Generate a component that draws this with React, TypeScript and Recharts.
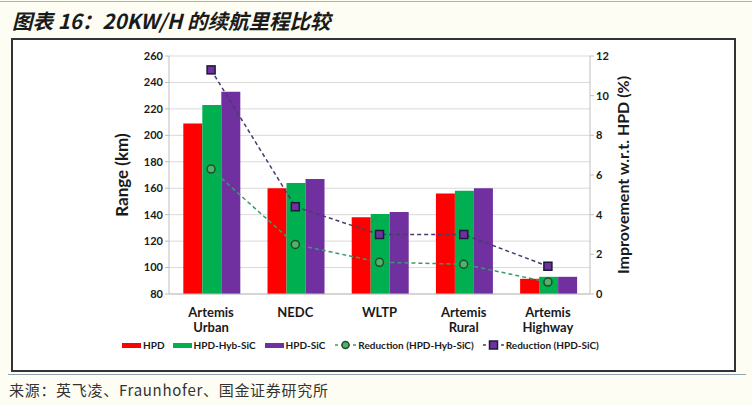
import React from 'react';
import {
  ComposedChart,
  Bar,
  Line,
  XAxis,
  YAxis,
  CartesianGrid,
} from 'recharts';

const categories = ['Artemis\nUrban', 'NEDC', 'WLTP', 'Artemis\nRural', 'Artemis\nHighway'];
const hpd = [209, 160, 138, 156, 91.5];
const hpdHybSic = [223, 164, 140.5, 158, 93];
const hpdSic = [233, 167, 142, 160, 93];
const reductionHybSic = [6.3, 2.5, 1.6, 1.5, 0.6];
const reductionSic = [11.3, 4.4, 3.0, 3.0, 1.4];

const rangeTicks = [80, 100, 120, 140, 160, 180, 200, 220, 240, 260];
const pctTicks = [0, 2, 4, 6, 8, 10, 12];

const RED = '#ff0000';
const GREEN = '#00b050';
const PURPLE = '#7030a0';
const FONT = 'Lato, "Open Sans", sans-serif';

const data = categories.map((name, i) => ({
  name,
  hpd: hpd[i],
  hyb: hpdHybSic[i],
  sic: hpdSic[i],
  redHyb: reductionHybSic[i],
  redSic: reductionSic[i],
}));

const CatTick = (props: any) => {
  const { x, y, payload } = props;
  const lines = String(payload.value).split('\n');
  return (
    <text x={x} y={y} textAnchor="middle" fontFamily={FONT} fontWeight={700} fontSize={13} fill="#1a1a1a">
      {lines.map((l, i) => (
        <tspan key={i} x={x} dy={15}>
          {l}
        </tspan>
      ))}
    </text>
  );
};

const CircleDot = (props: any) => {
  const { cx, cy } = props;
  if (cx == null || cy == null) return null;
  return <circle cx={cx} cy={cy} r={4} fill="#4fb36a" stroke="#1e4d2b" strokeWidth={1.5} />;
};

const SquareDot = (props: any) => {
  const { cx, cy } = props;
  if (cx == null || cy == null) return null;
  return <rect x={cx - 4} y={cy - 4} width={8} height={8} fill={PURPLE} stroke="#1a1a3a" strokeWidth={1.5} />;
};

const legendText: React.CSSProperties = {
  fontFamily: FONT,
  fontWeight: 700,
  fontSize: 10,
  color: '#1a1a1a',
  marginLeft: 2,
};

const Swatch = ({ color }: { color: string }) => (
  <span style={{ display: 'inline-block', width: 19, height: 5, background: color }} />
);

const LineIcon = ({ kind }: { kind: 'circle' | 'square' }) => (
  <svg width={21} height={10} style={{ display: 'block' }}>
    <line x1={0} y1={5} x2={21} y2={5} stroke={kind === 'circle' ? '#3c9a6a' : '#4b3b6b'} strokeWidth={1.5} strokeDasharray="3 3" />
    {kind === 'circle' ? (
      <circle cx={10.5} cy={5} r={3.5} fill="#4fb36a" stroke="#1e4d2b" strokeWidth={1.5} />
    ) : (
      <rect x={6.5} y={1} width={8} height={8} fill={PURPLE} stroke="#1a1a3a" strokeWidth={1.5} />
    )}
  </svg>
);

export default function App() {
  return (
    <div style={{ position: 'absolute', left: 0, top: 0, width: 752, height: 405, background: '#fdfdf3', overflow: 'hidden' }}>
      <svg width={752} height={405} style={{ position: 'absolute', left: 0, top: 0 }}>
        <line x1={0} y1={1.5} x2={752} y2={1.5} stroke="#b0b0b0" strokeWidth={1} />
        <rect x={12} y={39} width={723} height={332} fill="#ffffff" stroke="#333333" strokeWidth={2} />
        <line x1={8} y1={374.5} x2={746} y2={374.5} stroke="#8fa3b8" strokeWidth={1} />
      </svg>
      <div
        style={{
          position: 'absolute',
          left: 12,
          top: 5,
          fontFamily: '"Noto Sans CJK SC", "Liberation Sans", sans-serif',
          fontWeight: 700,
          fontStyle: 'italic',
          fontSize: 20.5,
          color: '#1a1a1a',
          whiteSpace: 'nowrap',
        }}
      >
        图表 16：20KW/H 的续航里程比较
      </div>
      <div style={{ position: 'absolute', left: 0, top: 0 }}>
        <ComposedChart
          width={752}
          height={405}
          data={data}
          margin={{ top: 56, right: 102, bottom: 71, left: 109 }}
          barCategoryGap="17%"
          barGap={0}
        >
          <CartesianGrid yAxisId="left" vertical={false} stroke="#d9d9d9" />
          <XAxis
            dataKey="name"
            interval={0}
            tick={<CatTick />}
            tickLine={false}
            axisLine={{ stroke: '#bfbfbf' }}
            height={40}
          />
          <YAxis
            yAxisId="left"
            domain={[80, 260]}
            ticks={rangeTicks}
            interval={0}
            width={60}
            tickSize={4}
            tickLine={{ stroke: '#bfbfbf' }}
            axisLine={{ stroke: '#bfbfbf' }}
            tick={{ fontFamily: FONT, fontWeight: 700, fontSize: 11, fill: '#1a1a1a' }}
            label={{
              value: 'Range (km)',
              angle: -90,
              position: 'insideLeft',
              dx: 8,
              style: { fontFamily: FONT, fontWeight: 700, fontSize: 17, fill: '#1a1a1a', textAnchor: 'middle' },
            }}
          />
          <YAxis
            yAxisId="right"
            orientation="right"
            domain={[0, 12]}
            ticks={pctTicks}
            interval={0}
            width={60}
            tickSize={4}
            tickLine={{ stroke: '#bfbfbf' }}
            axisLine={{ stroke: '#bfbfbf' }}
            tick={{ fontFamily: FONT, fontWeight: 700, fontSize: 11, fill: '#1a1a1a' }}
            label={{
              value: 'Improvement w.r.t. HPD (%)',
              angle: -90,
              position: 'insideRight',
              dx: -22,
              style: { fontFamily: FONT, fontWeight: 700, fontSize: 16, fill: '#1a1a1a', textAnchor: 'middle' },
            }}
          />
          <Bar yAxisId="left" dataKey="hpd" fill={RED} isAnimationActive={false} />
          <Bar yAxisId="left" dataKey="hyb" fill={GREEN} isAnimationActive={false} />
          <Bar yAxisId="left" dataKey="sic" fill={PURPLE} isAnimationActive={false} />
          <Line
            yAxisId="right"
            dataKey="redHyb"
            stroke="#3c9a6a"
            strokeWidth={1.5}
            strokeDasharray="4 3"
            dot={<CircleDot />}
            activeDot={false}
            isAnimationActive={false}
          />
          <Line
            yAxisId="right"
            dataKey="redSic"
            stroke="#4b3b6b"
            strokeWidth={1.5}
            strokeDasharray="4 3"
            dot={<SquareDot />}
            activeDot={false}
            isAnimationActive={false}
          />
        </ComposedChart>
      </div>
      <div style={{ position: 'absolute', left: 122, top: 338, height: 14, display: 'flex', alignItems: 'center', whiteSpace: 'nowrap' }}>
        <Swatch color={RED} />
        <span style={legendText}>HPD</span>
        <span style={{ width: 8 }} />
        <Swatch color={GREEN} />
        <span style={legendText}>HPD-Hyb-SiC</span>
        <span style={{ width: 9 }} />
        <Swatch color={PURPLE} />
        <span style={legendText}>HPD-SiC</span>
        <span style={{ width: 10 }} />
        <LineIcon kind="circle" />
        <span style={legendText}>Reduction (HPD-Hyb-SiC)</span>
        <span style={{ width: 9 }} />
        <LineIcon kind="square" />
        <span style={legendText}>Reduction (HPD-SiC)</span>
      </div>
      <div
        style={{
          position: 'absolute',
          left: 9,
          top: 379,
          fontFamily: '"Noto Sans CJK SC", sans-serif',
          fontSize: 15,
          letterSpacing: 0.7,
          color: '#333333',
          whiteSpace: 'nowrap',
        }}
      >
        来源：英飞凌、Fraunhofer、国金证券研究所
      </div>
    </div>
  );
}
